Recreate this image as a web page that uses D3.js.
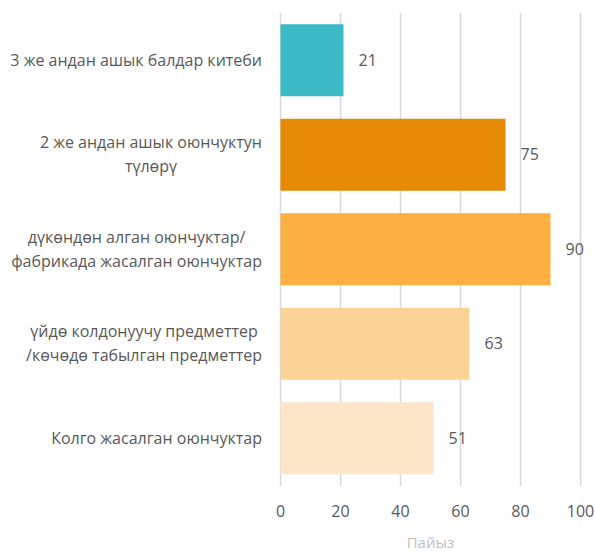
<!DOCTYPE html>
<html><head><meta charset="utf-8">
<script src="https://cdn.jsdelivr.net/npm/d3@7"></script>
<style>body{margin:0;background:#fff}svg{display:block}text{font-family:"Open Sans",sans-serif}</style>
</head><body>
<script>
const categories = [
  ["3 же андан ашык балдар китеби"],
  ["2 же андан ашык оюнчуктун", "түлөрү"],
  ["дүкөндөн алган оюнчуктар/", "фабрикада жасалган оюнчуктар"],
  ["үйдө колдонуучу предметтер", "/көчөдө табылган предметтер"],
  ["Колго жасалган оюнчуктар"]
];
const values = [21, 75, 90, 63, 51];
const colors = ["#3BBAC6", "#E68A05", "#FBB041", "#FBD396", "#FDE6C8"];
const ticks = [0, 20, 40, 60, 80, 100];
const axisTitle = "Пайыз";

const W = 595, H = 552;
const svg = d3.select("body").append("svg").attr("width", W).attr("height", H);
const x = d3.scaleLinear().domain([0, 100]).range([280.5, 580.5]);
const y = d3.scaleBand().domain(d3.range(values.length)).range([13, 485.5]).paddingInner(0.238).paddingOuter(0.119);

svg.append("g").selectAll("line").data(ticks).join("line")
  .attr("x1", d => x(d)).attr("x2", d => x(d)).attr("y1", 13).attr("y2", 486)
  .attr("stroke", "#d9d9d9").attr("stroke-width", 1.5);

svg.append("g").selectAll("rect").data(values).join("rect")
  .attr("x", x(0)).attr("y", (d, i) => y(i)).attr("width", d => x(d) - x(0)).attr("height", y.bandwidth())
  .attr("fill", (d, i) => colors[i]);

svg.append("g").selectAll("text").data(values).join("text")
  .attr("x", d => x(d) + 15).attr("y", (d, i) => y(i) + y.bandwidth() / 2).attr("dy", "0.35em")
  .attr("font-size", 16).attr("fill", "#595959").text(d => d);

const lh = 24;
categories.forEach((lines, i) => {
  const g = svg.append("g");
  const cy = y(i) + y.bandwidth() / 2;
  const ts = lines.map((l, k) => g.append("text")
    .attr("y", cy + (k - (lines.length - 1) / 2) * lh).attr("dy", "0.35em")
    .attr("font-size", 16).attr("fill", "#595959").attr("text-anchor", "middle").text(l));
  const maxW = d3.max(ts, t => t.node().getComputedTextLength());
  ts.forEach(t => t.attr("x", 262 - maxW / 2));
});

svg.append("g").selectAll("text").data(ticks).join("text")
  .attr("x", d => x(d)).attr("y", 511).attr("dy", "0.35em").attr("text-anchor", "middle")
  .attr("font-size", 16).attr("fill", "#595959").text(d => d);

svg.append("text").attr("x", x(50)).attr("y", 543).attr("dy", "0.35em").attr("text-anchor", "middle")
  .attr("font-size", 15).attr("fill", "#bfbfbf").text(axisTitle);
</script>
</body></html>
